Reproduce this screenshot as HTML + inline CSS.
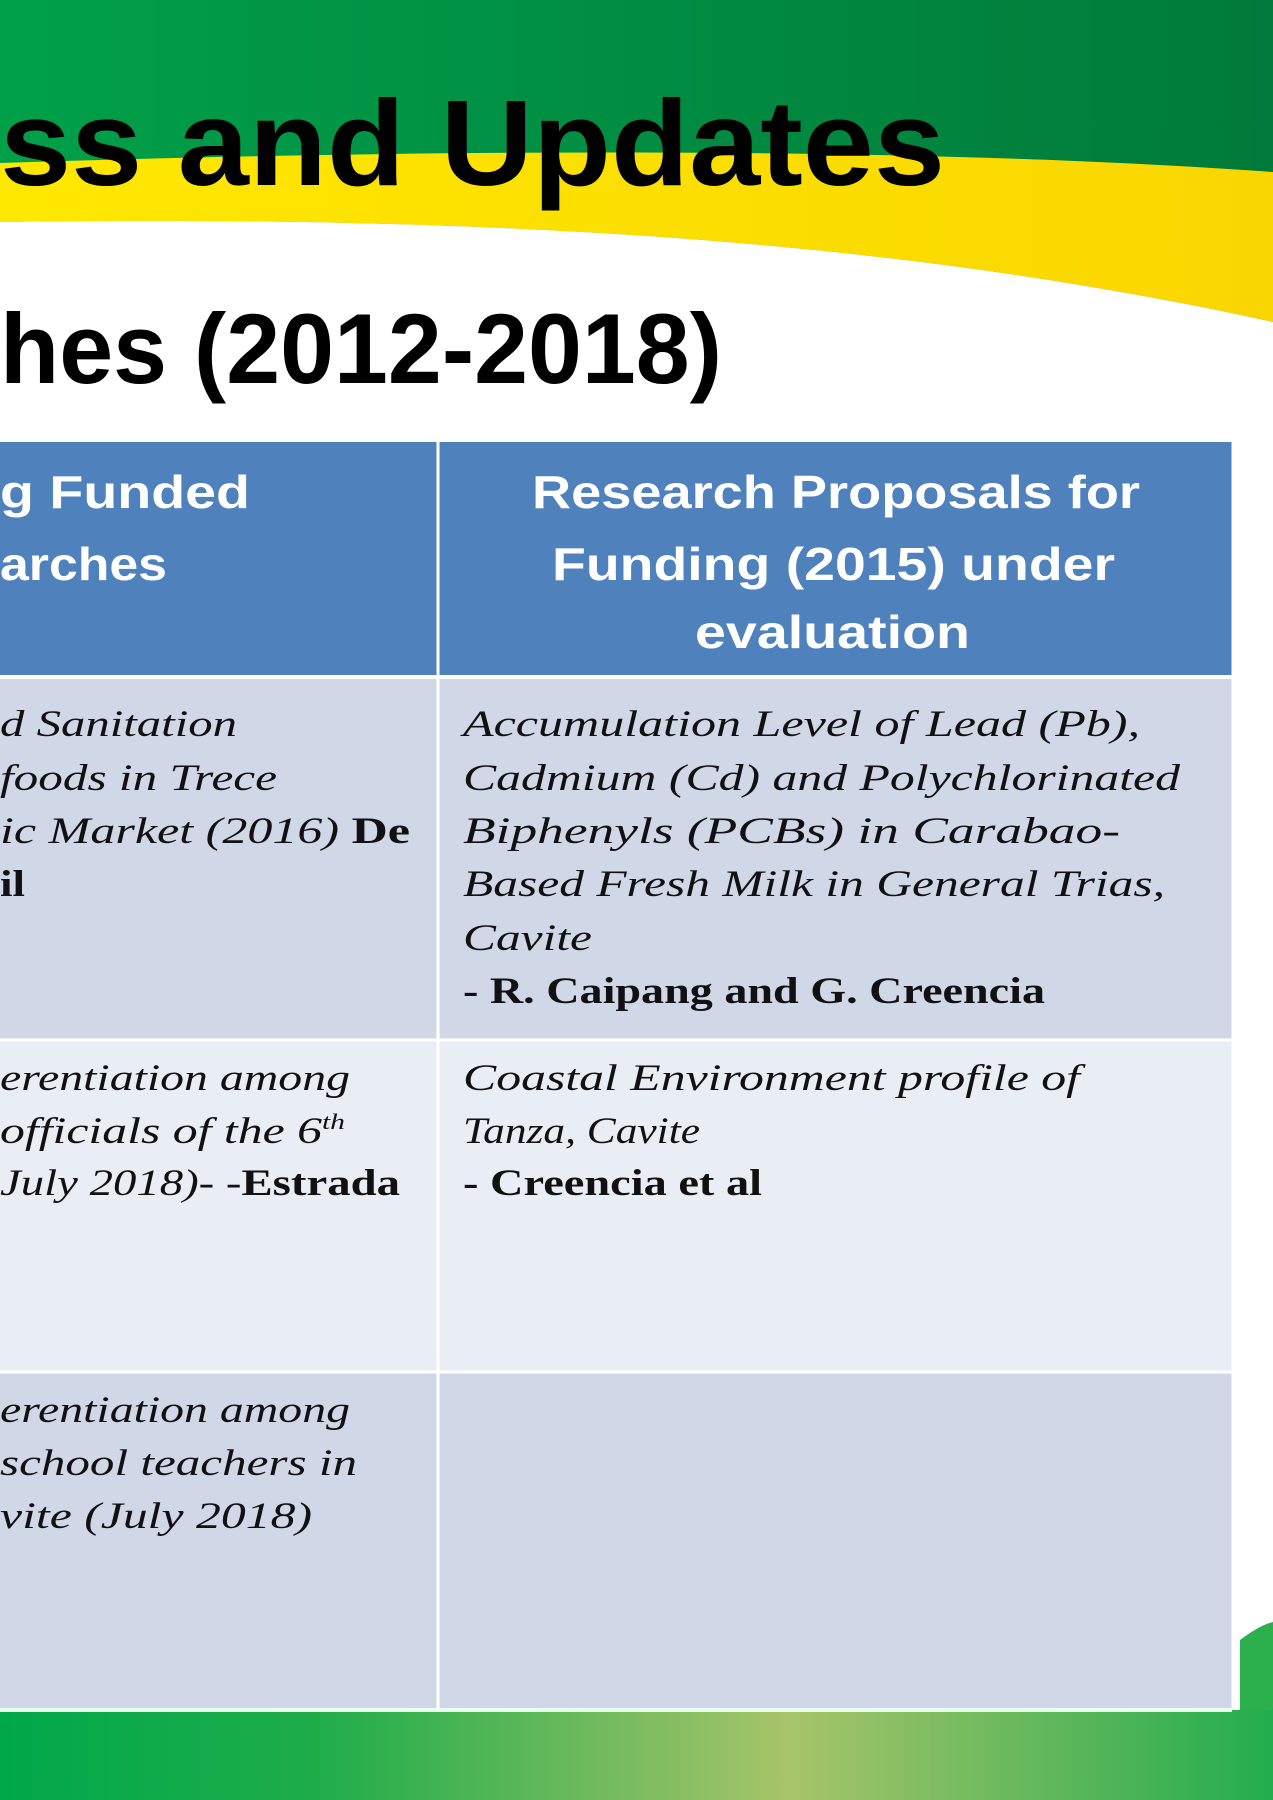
<!DOCTYPE html>
<html><head><meta charset="utf-8"><style>
html,body{margin:0;padding:0;width:1273px;height:1800px;overflow:hidden;background:#fff}
svg{display:block}
.h{font-family:"Liberation Sans",sans-serif;font-weight:bold;fill:#fff;font-size:46px}
.b{font-family:"Liberation Serif",serif;font-style:italic;font-size:37px;fill:#111}
.bb{font-family:"Liberation Serif",serif;font-weight:bold;font-style:normal;font-size:37px;fill:#111}
.t{font-family:"Liberation Sans",sans-serif;font-weight:bold;fill:#000}
</style></head><body>
<svg width="1273" height="1800" viewBox="0 0 1273 1800">
<defs>
<linearGradient id="gtop" x1="0" y1="0" x2="1" y2="0"><stop offset="0" stop-color="#00a04a"/><stop offset="1" stop-color="#007a3a"/></linearGradient>
<linearGradient id="gy" x1="0" y1="0" x2="1" y2="0"><stop offset="0" stop-color="#ffe800"/><stop offset="1" stop-color="#f9d600"/></linearGradient>
<linearGradient id="gbot" x1="0" y1="0" x2="1" y2="0"><stop offset="0" stop-color="#00a84a"/><stop offset="0.25" stop-color="#1fad4a"/><stop offset="0.62" stop-color="#a8c46a"/><stop offset="1" stop-color="#22ad4e"/></linearGradient>
</defs>
<rect x="0" y="0" width="1273" height="340" fill="url(#gtop)"/>
<path d="M0,163 C400,150 900,145 1273,172 L1273,322 C900,240 500,215 0,222 Z" fill="url(#gy)"/>
<path d="M0,222 C500,215 900,240 1273,322 L1273,1800 L0,1800 Z" fill="#fff"/>
<path d="M1240,1640 Q1260,1625 1273,1622 L1273,1710 L1240,1710 Z" fill="#2cb04e"/>
<rect x="0" y="1710" width="1273" height="90" fill="url(#gbot)"/>
<text class="t" x="0" y="185" font-size="122" textLength="945" lengthAdjust="spacingAndGlyphs">ss and Updates</text>
<text class="t" x="0" y="383" font-size="99" textLength="722" lengthAdjust="spacingAndGlyphs">hes (2012-2018)</text>
<g>
<rect x="0" y="442" width="1232" height="235" fill="#4f81bd"/>
<rect x="0" y="677" width="1232" height="363" fill="#d0d8e8"/>
<rect x="0" y="1040" width="1232" height="332" fill="#e9edf4"/>
<rect x="0" y="1372" width="1232" height="338" fill="#d0d8e8"/>
<line x1="0" y1="677" x2="1232" y2="677" stroke="#fff" stroke-width="4"/>
<line x1="0" y1="1040" x2="1232" y2="1040" stroke="#fff" stroke-width="3"/>
<line x1="0" y1="1372" x2="1232" y2="1372" stroke="#fff" stroke-width="3"/>
<line x1="0" y1="1710" x2="1232" y2="1710" stroke="#e8fff0" stroke-width="4"/>
<line x1="438" y1="442" x2="438" y2="1710" stroke="#fff" stroke-width="3"/>
<line x1="1233" y1="442" x2="1233" y2="1710" stroke="#fff" stroke-width="3"/>
</g>
<g>
<text class="h" x="0" y="508" textLength="250" lengthAdjust="spacingAndGlyphs">g Funded</text>
<text class="h" x="0" y="580" textLength="167" lengthAdjust="spacingAndGlyphs">arches</text>
</g>
<g>
<text class="h" x="532" y="508" textLength="608" lengthAdjust="spacingAndGlyphs">Research Proposals  for</text>
<text class="h" x="552" y="580" textLength="563" lengthAdjust="spacingAndGlyphs">Funding (2015) under</text>
<text class="h" x="695" y="648" textLength="275" lengthAdjust="spacingAndGlyphs">evaluation</text>
</g>
<g>
<text class="b" x="0" y="736" textLength="237" lengthAdjust="spacingAndGlyphs">d Sanitation</text>
<text class="b" x="0" y="790" textLength="277" lengthAdjust="spacingAndGlyphs">foods in Trece</text>
<text class="b" x="0" y="843" textLength="410" lengthAdjust="spacingAndGlyphs">ic Market (2016) <tspan class="bb">De</tspan></text>
<text class="bb" x="0" y="896" textLength="25" lengthAdjust="spacingAndGlyphs">il</text>
</g>
<g>
<text class="b" x="463" y="736" textLength="677" lengthAdjust="spacingAndGlyphs">Accumulation Level of Lead (Pb),</text>
<text class="b" x="463" y="790" textLength="717" lengthAdjust="spacingAndGlyphs">Cadmium (Cd) and Polychlorinated</text>
<text class="b" x="463" y="843" textLength="657" lengthAdjust="spacingAndGlyphs">Biphenyls (PCBs) in    Carabao-</text>
<text class="b" x="463" y="896" textLength="702" lengthAdjust="spacingAndGlyphs">Based Fresh Milk in General Trias,</text>
<text class="b" x="463" y="950" textLength="129" lengthAdjust="spacingAndGlyphs">Cavite</text>
<text class="bb" x="463" y="1003" textLength="582" lengthAdjust="spacingAndGlyphs">- R. Caipang and G. Creencia</text>
</g>
<g>
<text class="b" x="0" y="1090" textLength="350" lengthAdjust="spacingAndGlyphs">erentiation among</text>
<text class="b" x="0" y="1143" textLength="345" lengthAdjust="spacingAndGlyphs">officials of the 6<tspan font-size="22" dy="-14">th</tspan></text>
<text class="b" x="0" y="1195" textLength="400" lengthAdjust="spacingAndGlyphs">July 2018)- -<tspan class="bb">Estrada</tspan></text>
</g>
<g>
<text class="b" x="463" y="1090" textLength="617" lengthAdjust="spacingAndGlyphs">Coastal Environment profile of</text>
<text class="b" x="463" y="1143" textLength="237" lengthAdjust="spacingAndGlyphs">Tanza, Cavite</text>
<text class="bb" x="463" y="1195" textLength="299" lengthAdjust="spacingAndGlyphs">- Creencia et al</text>
</g>
<g>
<text class="b" x="0" y="1422" textLength="350" lengthAdjust="spacingAndGlyphs">erentiation among</text>
<text class="b" x="0" y="1475" textLength="357" lengthAdjust="spacingAndGlyphs">school teachers in</text>
<text class="b" x="0" y="1528" textLength="312" lengthAdjust="spacingAndGlyphs">vite (July 2018)</text>
</g>
</svg>
</body></html>
